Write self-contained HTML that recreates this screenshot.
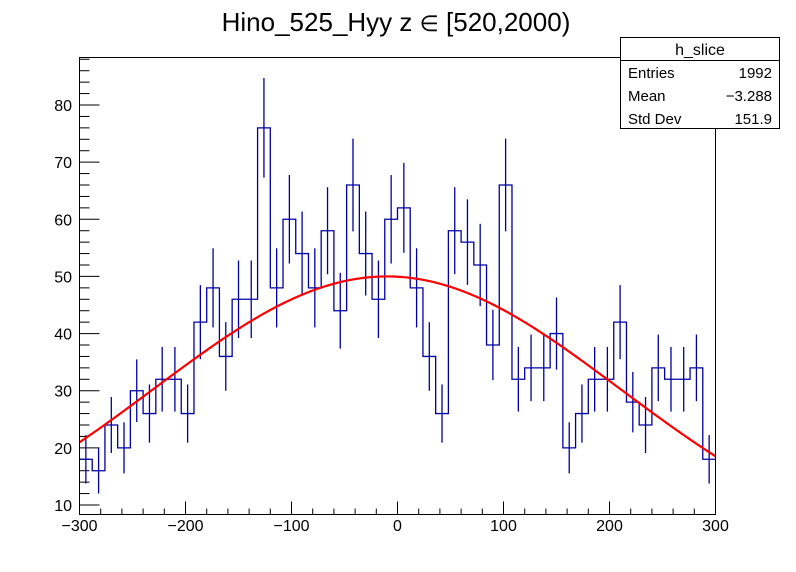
<!DOCTYPE html>
<html><head><meta charset="utf-8"><style>
html,body{margin:0;padding:0;background:#fff}
svg{display:block;font-family:"Liberation Sans",sans-serif}
</style></head><body>
<svg id="chart" width="796" height="572" viewBox="0 0 796 572">
<rect x="0" y="0" width="796" height="572" fill="#fff"/>
<text x="396" y="31" font-size="26" text-anchor="middle">Hino_525_Hyy z  <tspan font-size="22">∈</tspan> [520,2000)</text>
<g id="ticks"></g>
<g id="hist"></g>
<g id="fit"></g>
<rect x="79.5" y="57.5" width="636" height="457" fill="none" stroke="#000" stroke-width="1"/>
<g>
<rect x="620.5" y="37.5" width="159" height="91" fill="#fff" stroke="#000"/>
<line x1="620.5" y1="60.5" x2="779.5" y2="60.5" stroke="#000"/>
<text x="700" y="55" font-size="16" text-anchor="middle">h_slice</text>
<text x="628" y="78" font-size="15">Entries</text>
<text x="772" y="78" font-size="15" text-anchor="end">1992</text>
<text x="628" y="101" font-size="15">Mean</text>
<text x="772" y="101" font-size="15" text-anchor="end">−3.288</text>
<text x="628" y="124" font-size="15">Std Dev</text>
<text x="772" y="124" font-size="15" text-anchor="end">151.9</text>
</g>
</svg>
<script>
const binEdges = [-300, 300];
const counts = [18,16,24,20,30,26,32,32,26,42,48,36,46,46,76,48,60,54,48,58,44,66,54,46,60,62,48,36,26,58,56,52,38,66,32,34,34,40,20,26,32,32,42,28,24,34,32,32,34,18];
const xTicks = [-300,-200,-100,0,100,200,300];
const yTicks = [10,20,30,40,50,60,70,80];
const fitAmp = [50];
const fitMean = [-10];
const fitSigma = [220];

const NS='http://www.w3.org/2000/svg';
const X0=79.5, X1=715.5, YB=514.5, YT=57.5;
const xmin=binEdges[0], xmax=binEdges[1];
const sx=v=>X0+(v-xmin)/(xmax-xmin)*(X1-X0);
const sy=v=>505-(v-10)*(400/70);
function mk(tag,attrs,parent){const e=document.createElementNS(NS,tag);for(const k in attrs)e.setAttribute(k,attrs[k]);parent.appendChild(e);return e;}
const tg=document.getElementById('ticks');
for(let v=xmin; v<=xmax; v+=20){
  const major = v%100===0;
  const l=mk('line',{x1:sx(v),x2:sx(v),y1:YB,y2:YB-(major?13:6),stroke:'#000'},tg);
  
  
}
xTicks.forEach(v=>{
  const t=mk('text',{x:sx(v),y:531,'font-size':16,'text-anchor':'middle'},tg);
  t.textContent=(v<0?'−':'')+Math.abs(v);
  
  
});
for(let v=10; v<=88; v+=2){
  const major=v%10===0;
  const l=mk('line',{x1:X0,x2:X0+(major?20:10),y1:sy(v),y2:sy(v),stroke:'#000'},tg);
  
  
}
yTicks.forEach(v=>{
  const t=mk('text',{x:72,y:sy(v)+6,'font-size':16,'text-anchor':'end'},tg);
  t.textContent=v;
  
  
});
const hg=document.getElementById('hist');
const n=counts.length, bw=(xmax-xmin)/n;
let d='';
counts.forEach((c,i)=>{
  const xa=sx(xmin+i*bw), xb=sx(xmin+(i+1)*bw), y=sy(c);
  d+=(i===0?'M':'L')+xa+','+y+' L'+xb+','+y+' ';
});
const hp=mk('path',{d:d,fill:'none',stroke:'#0000a0','stroke-width':1.3},hg);


counts.forEach((c,i)=>{
  const xc=sx(xmin+(i+0.5)*bw), e=Math.sqrt(c);
  const l=mk('line',{x1:xc,x2:xc,y1:Math.min(sy(c-e),YB),y2:sy(c+e),stroke:'#0000a0','stroke-width':1.3},hg);
  
  
});
const fg=document.getElementById('fit');
let pts=[];
for(let k=0;k<=300;k++){
  const v=xmin+k*(xmax-xmin)/300;
  const y=fitAmp[0]*Math.exp(-Math.pow(v-fitMean[0],2)/(2*fitSigma[0]*fitSigma[0]));
  pts.push(sx(v).toFixed(2)+','+sy(y).toFixed(2));
}
const fp=mk('polyline',{points:pts.join(' '),fill:'none',stroke:'#ff0000','stroke-width':2.2},fg);


</script>
</body></html>
